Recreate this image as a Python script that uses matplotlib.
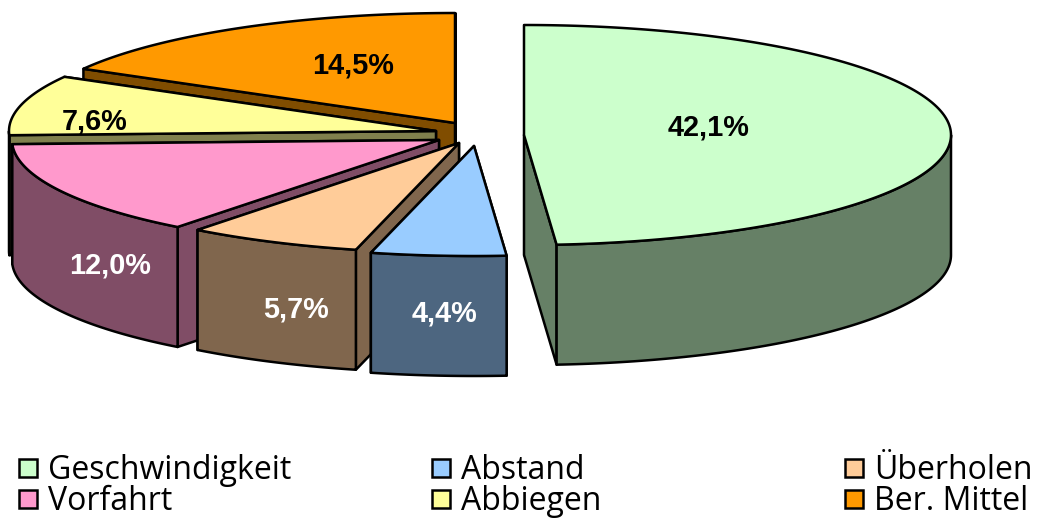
import matplotlib
matplotlib.use('Agg')
import matplotlib.pyplot as plt
import numpy as np
from matplotlib.patches import Polygon, Rectangle

names = ['Geschwindigkeit', 'Abstand', 'Überholen', 'Vorfahrt', 'Abbiegen', 'Ber. Mittel']
values = [42.1, 4.4, 5.7, 12.0, 7.6, 14.5]
labels = ['42,1%', '4,4%', '5,7%', '12,0%', '7,6%', '14,5%']
colors = ['#CCFFCC', '#99CCFF', '#FFCC99', '#FF99CC', '#FFFF99', '#FF9900']
sides = ['#668066', '#4D6680', '#80664D', '#804D66', '#80804D', '#804D00']

# exploded apex of each slice, in image pixels
apexes = [(524, 135), (474, 146), (459, 143), (439, 140), (436, 131), (455, 123)]
label_pos = [(709, 128), (445, 314), (296, 310), (110, 266), (95, 122), (353, 65)]
label_colors = ['black', 'white', 'white', 'white', 'black', 'black']

RX, RY, DEPTH = 427, 110, 120
EDGE = 1.8


def rim(apex, angles):
    # angles run clockwise from the top of the pie
    return np.column_stack((apex[0] + RX * np.sin(angles), apex[1] - RY * np.cos(angles)))


def draw_slice(ax, apex, start, stop, color, side):
    angles = np.linspace(start, stop, 200)
    arc = rim(apex, angles)
    drop = np.array([0, DEPTH])
    # the cut face further back goes first so the nearer one hides it
    for point in sorted((arc[0], arc[-1]), key=lambda p: p[1]):
        face = [apex, point, point + drop, np.array(apex) + drop]
        ax.add_patch(Polygon(face, facecolor=side, edgecolor='black', lw=EDGE, joinstyle='round'))
    front = angles[(angles >= np.pi / 2) & (angles <= 3 * np.pi / 2)]
    if len(front):
        outer = rim(apex, front)
        ax.add_patch(Polygon(np.vstack((outer, outer[::-1] + drop)), facecolor=side,
                             edgecolor='black', lw=EDGE, joinstyle='round'))
    ax.add_patch(Polygon(np.vstack(([apex], arc)), facecolor=color, edgecolor='black',
                         lw=EDGE, joinstyle='round'))


fig = plt.figure(figsize=(10.37, 5.18), dpi=100)
ax = fig.add_axes([0, 0, 1, 1])
ax.set(xlim=(0, 1037), ylim=(518, 0))
ax.axis('off')

edges = np.concatenate(([0], np.cumsum(values))) / sum(values) * 2 * np.pi
# back slices first, the big front one last
for i in [5, 4, 3, 2, 1, 0]:
    draw_slice(ax, apexes[i], edges[i], edges[i + 1], colors[i], sides[i])

for text, pos, color in zip(labels, label_pos, label_colors):
    ax.text(pos[0], pos[1], text, color=color, fontsize=20.8, fontweight='bold',
            family='Liberation Sans', ha='center', va='center')

legend_x = [19, 432, 845]
legend_y = [459, 490]
for i, name in enumerate(names):
    x = legend_x[i % 3]
    y = legend_y[i // 3]
    ax.add_patch(Rectangle((x, y), 18, 18, facecolor=colors[i], edgecolor='black', lw=EDGE))
    ax.text(x + 29, y + 20, name, color='black', fontsize=23, family='Open Sans',
            ha='left', va='baseline')

fig.savefig('out.png', dpi=100)
